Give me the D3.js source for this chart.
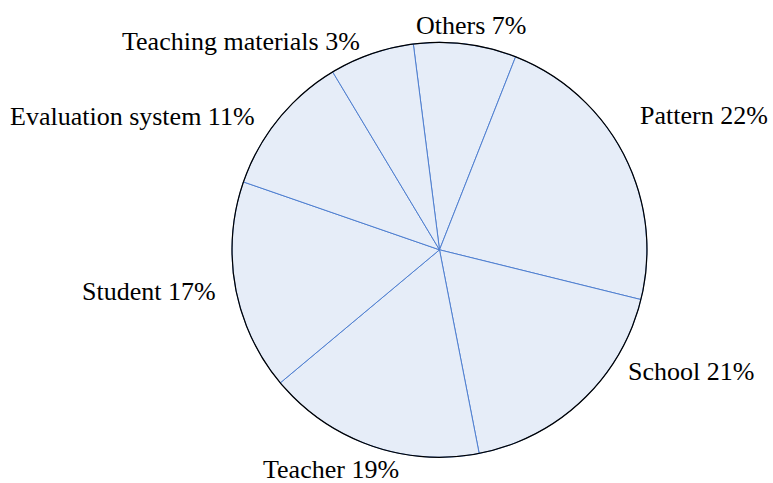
<!DOCTYPE html>
<html>
<head>
<meta charset="utf-8">
<script src="https://cdn.jsdelivr.net/npm/d3@7"></script>
<style>
  html, body { margin: 0; padding: 0; background: #fff; }
  text { font-family: "Liberation Serif", "Times New Roman", serif; }
</style>
</head>
<body>
<svg id="chart" width="773" height="483"></svg>
<script>
// Slice order, clockwise from the top
const categories = ["Others", "Pattern", "School", "Teacher", "Student", "Evaluation system", "Teaching materials"];
// Slice sizes as drawn
const shares = [8.0, 22.9, 18.1, 17.0, 16.4, 11.1, 6.6];
// Percent text printed next to each slice
const percentLabels = ["7%", "22%", "21%", "19%", "17%", "11%", "3%"];

// Label anchors (layout only)
const labelLayout = [
    { x: 416, y: 34 },
    { x: 640, y: 124 },
    { x: 628, y: 380 },
    { x: 263, y: 478 },
    { x: 82, y: 300 },
    { x: 10, y: 125 },
    { x: 122, y: 50 }
];

const svg = d3.select("#chart");
const cx = 439.5, cy = 249.8, radius = 207.5;
const start = -7.25 * Math.PI / 180;

const pie = d3.pie()
    .sort(null)
    .value(d => d)
    .startAngle(start)
    .endAngle(start + 2 * Math.PI);

const arc = d3.arc().innerRadius(0).outerRadius(radius);

const g = svg.append("g").attr("transform", `translate(${cx},${cy})`);

// Slices
g.selectAll("path.slice")
    .data(pie(shares))
    .enter()
    .append("path")
    .attr("class", "slice")
    .attr("d", arc)
    .attr("fill", "#e6edf8")
    .attr("stroke", "#4f7fd0")
    .attr("stroke-width", 1);

// Outer rim
g.append("circle")
    .attr("r", radius)
    .attr("fill", "none")
    .attr("stroke", "#000")
    .attr("stroke-width", 1.2);

// Labels
svg.selectAll("text.label")
    .data(categories)
    .enter()
    .append("text")
    .attr("class", "label")
    .attr("x", (d, i) => labelLayout[i].x)
    .attr("y", (d, i) => labelLayout[i].y)
    .attr("font-size", 26)
    .attr("fill", "#000")
    .text((d, i) => d + " " + percentLabels[i]);
</script>
</body>
</html>
